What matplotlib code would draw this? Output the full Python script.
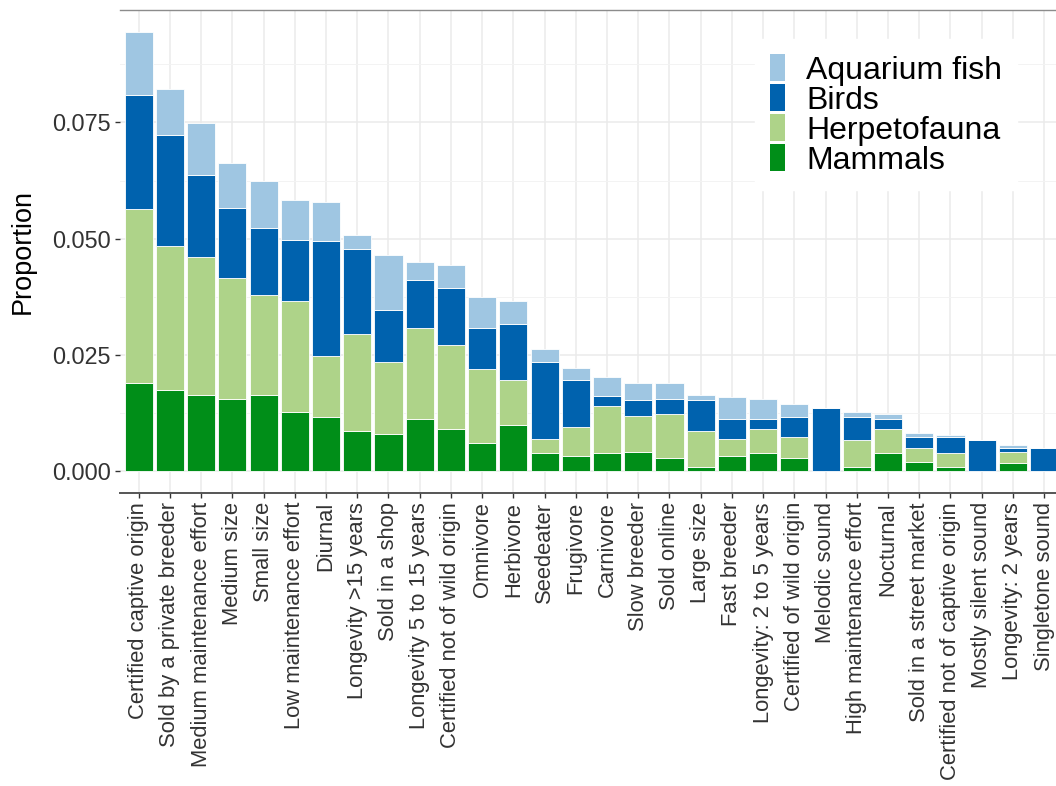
import matplotlib
matplotlib.use("Agg")
import matplotlib.pyplot as plt
import numpy as np
from matplotlib.ticker import MultipleLocator

categories = [
    "Certified captive origin", "Sold by a private breeder", "Medium maintenance effort",
    "Medium size", "Small size", "Low maintenance effort", "Diurnal",
    "Longevity >15 years", "Sold in a shop", "Longevity 5 to 15 years",
    "Certified not of wild origin", "Omnivore", "Herbivore", "Seedeater", "Frugivore",
    "Carnivore", "Slow breeder", "Sold online", "Large size", "Fast breeder",
    "Longevity: 2 to 5 years", "Certified of wild origin", "Melodic sound",
    "High maintenance effort", "Nocturnal", "Sold in a street market",
    "Certified not of captive origin", "Mostly silent sound", "Longevity: 2 years",
    "Singletone sound",
]

mammals = [0.0189, 0.0174, 0.0164, 0.0156, 0.0164, 0.0128, 0.0116, 0.0087, 0.0079, 0.0112,
           0.0090, 0.0061, 0.0099, 0.0038, 0.0033, 0.0038, 0.0042, 0.0029, 0.0009, 0.0033,
           0.0038, 0.0029, 0.0, 0.0009, 0.0038, 0.0020, 0.0009, 0.0, 0.0017, 0.0]
herpetofauna = [0.0375, 0.0311, 0.0297, 0.0259, 0.0215, 0.0238, 0.0131, 0.0209, 0.0155, 0.0196,
                0.0181, 0.0158, 0.0098, 0.0032, 0.0062, 0.0102, 0.0076, 0.0094, 0.0077, 0.0037,
                0.0052, 0.0045, 0.0, 0.0058, 0.0052, 0.0029, 0.0029, 0.0, 0.0025, 0.0]
birds = [0.0246, 0.0238, 0.0177, 0.0152, 0.0144, 0.0132, 0.0247, 0.0181, 0.0112, 0.0104,
         0.0123, 0.0089, 0.0120, 0.0164, 0.0102, 0.0021, 0.0036, 0.0033, 0.0067, 0.0042,
         0.0022, 0.0042, 0.0136, 0.0049, 0.0022, 0.0025, 0.0036, 0.0067, 0.0007, 0.0049]
aquarium_fish = [0.0135, 0.0099, 0.0110, 0.0095, 0.0102, 0.0086, 0.0085, 0.0032, 0.0120, 0.0037,
                 0.0049, 0.0066, 0.0049, 0.0028, 0.0024, 0.0041, 0.0036, 0.0034, 0.0011, 0.0048,
                 0.0044, 0.0028, 0.0, 0.0012, 0.0011, 0.0009, 0.0004, 0.0, 0.0008, 0.0]

groups = ["Mammals", "Herpetofauna", "Birds", "Aquarium fish"]
colors = {"Aquarium fish": "#9fc6e2", "Birds": "#0062ae",
          "Herpetofauna": "#aed389", "Mammals": "#008e18"}
series = {"Mammals": mammals, "Herpetofauna": herpetofauna,
          "Birds": birds, "Aquarium fish": aquarium_fish}

plt.rcParams["font.family"] = ["Liberation Sans", "DejaVu Sans"]

fig = plt.figure(figsize=(10.56, 7.86), dpi=100)
ax = fig.add_axes([0.1136, 0.3728, 0.8864, 0.6145])

x = np.arange(len(categories))
bottom = np.zeros(len(categories))
handles = {}
for g in groups:
    vals = np.array(series[g])
    handles[g] = ax.bar(x, vals, bottom=bottom, width=0.9, color=colors[g],
                        edgecolor="white", linewidth=0.6, zorder=3, label=g)
    bottom += vals

# axes styling, ggplot-like
ax.set_xlim(-0.6, 29.38)
ax.set_ylim(-0.0047, 0.0992)
ax.yaxis.set_minor_locator(MultipleLocator(0.0125))
ax.set_yticks([0, 0.025, 0.05, 0.075])
ax.set_yticklabels(["0.000", "0.025", "0.050", "0.075"])
ax.set_xticks(x)
ax.set_xticklabels(categories, rotation=90, ha="center", va="top", fontsize=15.8)
ax.grid(True, which="major", color="#ebebeb", linewidth=1.1, zorder=0)
ax.grid(True, which="minor", axis="y", color="#f3f3f3", linewidth=0.7, zorder=0)
ax.set_axisbelow(True)
for side in ["left", "right"]:
    ax.spines[side].set_visible(False)
ax.spines["top"].set_color("#8c8c8c")
ax.spines["top"].set_linewidth(1.0)
ax.spines["bottom"].set_color("#555555")
ax.spines["bottom"].set_linewidth(1.4)
ax.tick_params(axis="both", which="major", length=3.5, width=1, color="#333333",
               labelcolor="#333333", pad=3)
ax.tick_params(axis="y", which="major", labelsize=16.8)
ax.tick_params(axis="y", which="minor", length=0)
ax.set_ylabel("Proportion", fontsize=19.5, color="black", labelpad=12)

order = ["Aquarium fish", "Birds", "Herpetofauna", "Mammals"]
leg = ax.legend([handles[g] for g in order], order, loc="upper right",
                bbox_to_anchor=(0.975, 0.972), fontsize=23, frameon=True,
                fancybox=False, edgecolor="white", framealpha=1,
                handlelength=0.5, handleheight=0.94, handletextpad=0.65,
                labelspacing=-0.05, borderpad=0.45)
for h in leg.legend_handles:
    h.set_edgecolor("none")

fig.savefig("out.png", dpi=100)
